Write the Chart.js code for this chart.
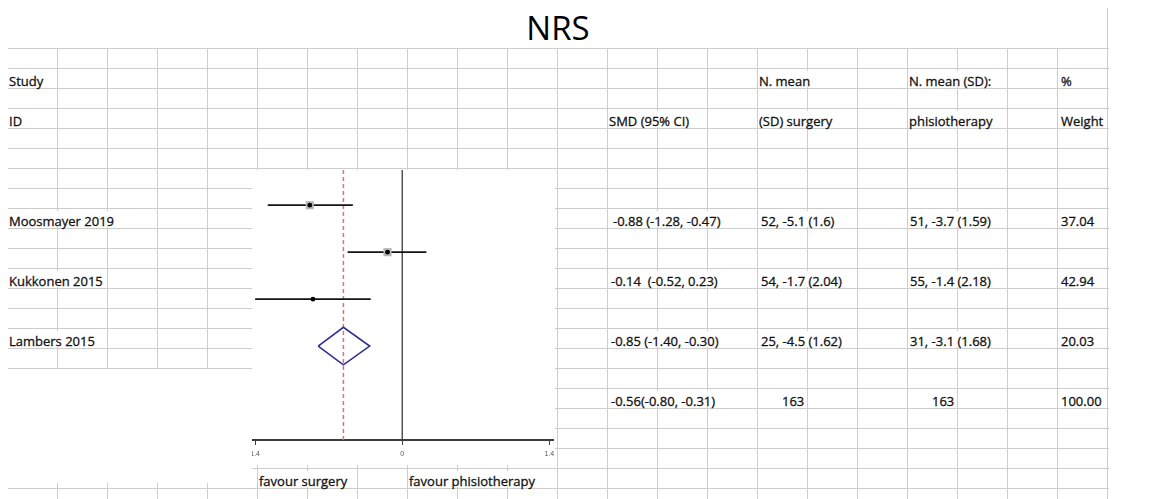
<!DOCTYPE html>
<html>
<head>
<meta charset="utf-8">
<script src="https://cdn.jsdelivr.net/npm/chart.js@4.4.0/dist/chart.umd.min.js"></script>
<style>
  body { margin: 0; width: 1151px; height: 499px; background: #fff; position: relative; overflow: hidden; font-family: "Open Sans", sans-serif; }
  /* spreadsheet grid */
  #grid { position: absolute; left: 8px; top: 48px; width: 1101px; height: 451px;
    background-image: linear-gradient(to right, #cdcdcd 0 1px, transparent 1px), linear-gradient(to bottom, #cdcdcd 0 1px, transparent 1px);
    background-size: 50px 100%, 100% 20px;
    background-position: 49px 0, 0 0; }
  #edge { position: absolute; left: 1107px; top: 8px; width: 1px; height: 40px; background: #cdcdcd; }
  #blank { position: absolute; left: 0; top: 369px; width: 252px; height: 114px; background: #fff; }
  #inset { position: absolute; left: 252px; top: 170px; width: 303px; height: 295px; background: #fff; }
  #title { position: absolute; left: 0; width: 1116px; top: 5px; text-align: center; font-size: 33px; color: #000; }
  .cell { position: absolute; height: 16px; line-height: 21px; font-size: 13px; color: #111; background: #fff;
    white-space: pre; padding-right: 1px; -webkit-text-stroke: 0.3px #111; }
</style>
</head>
<body>
<div id="grid"></div>
<div id="edge"></div>
<div id="blank"></div>
<div id="title">NRS</div>
<div id="inset"><canvas id="forest" width="303" height="295"></canvas></div>
<script>
    // 데이터
    const studies = ['Moosmayer 2019', 'Kukkonen 2015', 'Lambers 2015'];
    const smd = [-0.88, -0.14, -0.85];
    const ciLow = [-1.28, -0.52, -1.40];
    const ciHigh = [-0.47, 0.23, -0.30];
    const smdText = ['-0.88 (-1.28, -0.47)', '-0.14  (-0.52, 0.23)', '-0.85 (-1.40, -0.30)'];
    const surgeryText = ['52, -5.1 (1.6)', '54, -1.7 (2.04)', '25, -4.5 (1.62)'];
    const physioText = ['51, -3.7 (1.59)', '55, -1.4 (2.18)', '31, -3.1 (1.68)'];
    const weights = ['37.04', '42.94', '20.03'];
    const pooled = [-0.56, -0.80, -0.31];
    const pooledText = '-0.56(-0.80, -0.31)';
    const totals = ['163', '163', '100.00'];
    const xTickValues = [-1.4, 0, 1.4];
    const xTickLabels = ['1.4', '0', '1.4'];

    // 표 텍스트 (엑셀 셀)
    function cell(text, x, rowTop) {
        const d = document.createElement('div');
        d.className = 'cell';
        d.textContent = text;
        d.style.left = x + 'px';
        d.style.top = (rowTop + 3) + 'px';
        document.body.appendChild(d);
    }
    cell('Study', 9, 68);
    cell('N. mean', 759, 68);
    cell('N. mean (SD):', 909, 68);
    cell('%', 1061, 68);
    cell('ID', 9, 108);
    cell('SMD (95% CI)', 609, 108);
    cell('(SD) surgery', 759, 108);
    cell('phisiotherapy', 909, 108);
    cell('Weight', 1061, 108);
    studies.forEach((s, i) => {
        const top = 208 + i * 60;
        cell(s, 9, top);
        cell(smdText[i], i === 0 ? 613 : 611, top);
        cell(surgeryText[i], 761, top);
        cell(physioText[i], 910, top);
        cell(weights[i], 1061, top);
    });
    cell(pooledText, 611, 388);
    cell(totals[0], 782, 388);
    cell(totals[1], 932, 388);
    cell(totals[2], 1061, 388);
    cell('favour surgery', 259, 468);
    cell('favour phisiotherapy', 409, 468);

    // 포레스트 플롯
    const yMin = 0.25, yMax = 6;
    const pooledRow = studies.length + 1;
    const diamondHalf = 0.4;

    const datasets = [];
    datasets.push({
        data: [{ x: 0, y: yMin }, { x: 0, y: yMax }],
        showLine: true, borderColor: '#3a3a3a', borderWidth: 1.3, pointRadius: 0, order: 10
    });
    datasets.push({
        data: [{ x: pooled[0], y: yMin }, { x: pooled[0], y: yMax }],
        showLine: true, borderColor: '#e07272', borderWidth: 1.5, borderDash: [4, 3], pointRadius: 0, order: 9
    });
    studies.forEach((s, i) => {
        datasets.push({
            data: [{ x: ciLow[i], y: i + 1 }, { x: ciHigh[i], y: i + 1 }],
            showLine: true, borderColor: '#141414', borderWidth: 1.8, pointRadius: 0, order: 5
        });
    });
    datasets.push({
        data: smd.map((v, i) => ({ x: v, y: i + 1 })),
        pointStyle: 'rect', pointRadius: [5.8, 5.8, 0], backgroundColor: '#b8b8b8', borderWidth: 0, order: 3
    });
    datasets.push({
        data: smd.map((v, i) => ({ x: v, y: i + 1 })),
        pointStyle: 'circle', pointRadius: 2.4, backgroundColor: '#000', borderWidth: 0, order: 1
    });
    datasets.push({
        data: [
            { x: pooled[1], y: pooledRow },
            { x: pooled[0], y: pooledRow - diamondHalf },
            { x: pooled[2], y: pooledRow },
            { x: pooled[0], y: pooledRow + diamondHalf },
            { x: pooled[1], y: pooledRow }
        ],
        showLine: true, borderColor: '#2c3090', borderWidth: 1.6, borderJoinStyle: 'miter', pointRadius: 0, order: 2
    });

    new Chart(document.getElementById('forest'), {
        type: 'scatter',
        data: { datasets: datasets },
        options: {
            responsive: false,
            animation: false,
            layout: { autoPadding: false, padding: { left: 0, right: 2, top: 0, bottom: 0 } },
            plugins: { legend: { display: false }, tooltip: { enabled: false } },
            scales: {
                x: {
                    type: 'linear',
                    min: -1.43,
                    max: 1.435,
                    afterBuildTicks: s => { s.ticks = xTickValues.map(v => ({ value: v })); },
                    afterFit: s => { s.height = 25; s.paddingLeft = 0; s.paddingRight = 0; },
                    border: { display: true, color: '#3c3c3c', width: 2 },
                    grid: { drawOnChartArea: false, drawTicks: true, tickLength: 5, color: '#3c3c3c' },
                    ticks: {
                        autoSkip: false, maxRotation: 0, padding: 5,
                        font: { size: 7, family: 'Liberation Sans' }, color: '#555',
                        callback: (v, i) => xTickLabels[i]
                    }
                },
                y: { type: 'linear', display: false, reverse: true, min: yMin, max: yMax }
            }
        }
    });
</script>
</body>
</html>
